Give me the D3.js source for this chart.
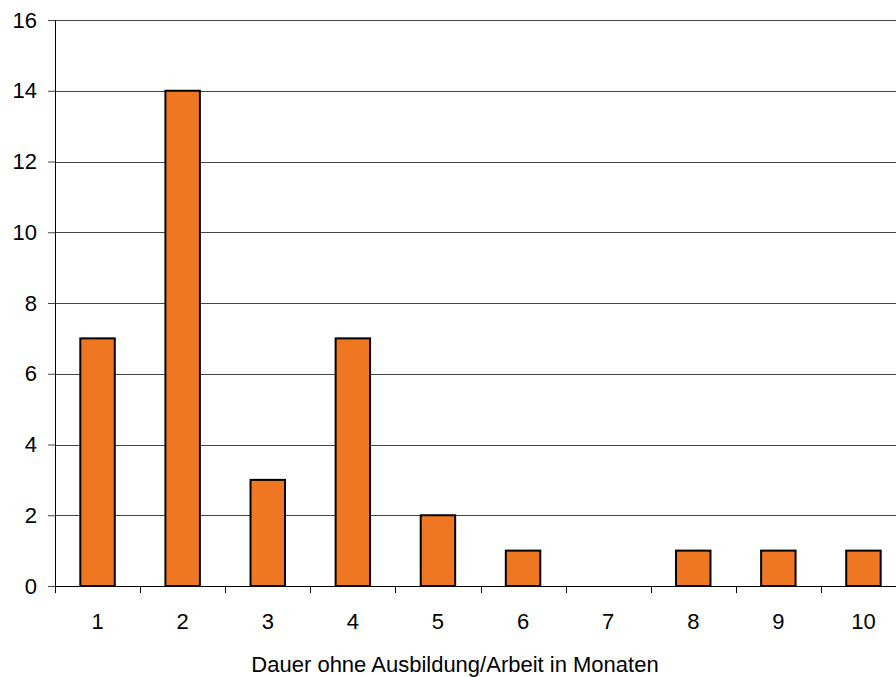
<!DOCTYPE html>
<html><head><meta charset="utf-8">
<script src="https://cdn.jsdelivr.net/npm/d3@7"></script>
<style>body{margin:0;background:#fff}svg{display:block}text{font-family:"Liberation Sans",Arial,sans-serif;fill:#000}</style>
</head><body>
<svg id="c" width="896" height="677"></svg>
<script>
const categories = ["1","2","3","4","5","6","7","8","9","10"];
const values = [7,14,3,7,2,1,0,1,1,1];
const yTicks = [0,2,4,6,8,10,12,14,16];
const xTitle = "Dauer ohne Ausbildung/Arbeit in Monaten";

(function(){
const svg = d3.select("#c");
const mLeft = 55, mTop = 20, mBottom = 586, mRight = 906;
const x = d3.scaleBand().domain(categories).range([mLeft, mRight]).paddingInner(0).paddingOuter(0);
const y = d3.scaleLinear().domain([0,16]).range([mBottom, mTop]);

// gridlines
svg.append("g").selectAll("line").data(yTicks.filter(d=>d>0)).join("line")
  .attr("x1", mLeft).attr("x2", 896).attr("y1", d=>Math.round(y(d))+0.5).attr("y2", d=>Math.round(y(d))+0.5)
  .attr("stroke", "#444").attr("stroke-width", 1);

// y axis
const ya = svg.append("g").attr("transform", `translate(${mLeft},0)`)
  .call(d3.axisLeft(y).tickValues(yTicks).tickSize(7).tickPadding(11));
ya.select(".domain").attr("stroke","#000");
ya.selectAll(".tick line").attr("stroke","#444");
ya.selectAll("text").style("font-size","22px").attr("fill","#000");

// bars
const bw = x.bandwidth()*0.405;
svg.append("g").selectAll("rect").data(values.map((v,i)=>({c:categories[i],v})).filter(d=>d.v>0)).join("rect")
  .attr("x", d=>x(d.c)+x.bandwidth()/2-bw/2)
  .attr("y", d=>y(d.v))
  .attr("width", bw)
  .attr("height", d=>y(0)-y(d.v))
  .attr("fill", "#EF7721").attr("stroke","#000").attr("stroke-width",2);

// x axis
const xa = svg.append("g").attr("transform", `translate(0,${mBottom})`)
  .call(d3.axisBottom(x).tickSize(0).tickPadding(27));
xa.select(".domain").attr("stroke","#000").attr("d", `M${mLeft},0.5H896`);
xa.selectAll("text").style("font-size","22px").attr("fill","#000");
// category boundary ticks
svg.append("g").selectAll("line").data(categories).join("line")
  .attr("x1", d=>Math.round(x(d))+0.5).attr("x2", d=>Math.round(x(d))+0.5)
  .attr("y1", mBottom).attr("y2", mBottom+7)
  .attr("stroke","#000");

svg.append("text").attr("x", 455).attr("y", 672).attr("text-anchor","middle")
  .style("font-size","22px").text(xTitle);
})();
</script>
</body></html>
